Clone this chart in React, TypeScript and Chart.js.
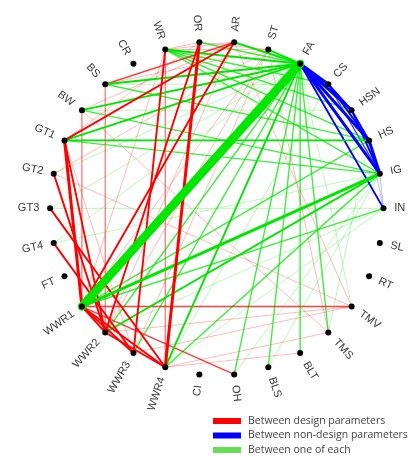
import React, { useEffect, useRef } from "react";
import { Chart, registerables } from "chart.js";

Chart.register(...registerables);

// Nodes placed counter-clockwise around the circle starting at 3 o'clock, 12° apart
const NODES = [
  "IN", "IG", "HS", "HSN", "CS", "FA", "ST", "AR", "OR", "WR",
  "CR", "BS", "BW", "GT1", "GT2", "GT3", "GT4", "FT", "WWR1", "WWR2",
  "WWR3", "WWR4", "CI", "OH", "BLS", "BLT", "TMS", "TMV", "RT", "SL",
];
const NON_DESIGN = ["FA", "CS", "HSN", "HS", "IG", "IN"];

// [from, to, strength 1..5]
const NONDESIGN_EDGES: [string, string, number][] = [
  ["FA", "CS", 4], ["FA", "HSN", 4], ["FA", "HS", 4], ["FA", "IG", 4], ["FA", "IN", 3],
  ["CS", "HSN", 3], ["CS", "HS", 3], ["CS", "IG", 2], ["HSN", "HS", 3], ["HSN", "IG", 3],
  ["HS", "IG", 4], ["HS", "IN", 1], ["IG", "IN", 1],
];

const DESIGN_EDGES: [string, string, number][] = [
  ["GT1", "WWR1", 4], ["GT1", "WWR2", 3], ["GT2", "WWR2", 3], ["GT3", "WWR4", 3], ["GT4", "WWR3", 3],
  ["GT1", "AR", 3], ["BS", "AR", 2], ["WR", "WWR3", 3], ["WR", "WWR4", 1], ["OR", "WWR4", 4],
  ["OR", "WWR2", 3], ["AR", "WWR1", 3], ["AR", "WWR2", 1], ["ST", "WWR1", 1], ["ST", "WWR2", 1],
  ["ST", "WWR3", 1], ["WWR1", "TMV", 2], ["WWR1", "WWR2", 3], ["WWR1", "WWR3", 3], ["WWR1", "WWR4", 3],
  ["WWR2", "WWR4", 3], ["WWR2", "TMV", 1], ["WWR3", "TMV", 1], ["WWR1", "OH", 2], ["WWR4", "TMS", 1],
  ["WWR4", "BLT", 1], ["TMV", "AR", 1], ["TMS", "ST", 1], ["BW", "WWR1", 1], ["BS", "WWR2", 1],
  ["GT1", "WWR3", 1], ["GT2", "TMV", 1], ["BW", "TMS", 1], ["WR", "OR", 1], ["WR", "AR", 1],
  ["WR", "ST", 1], ["OR", "ST", 1], ["BS", "ST", 1], ["BW", "AR", 1], ["GT2", "ST", 1],
  ["GT1", "OR", 1], ["WR", "WWR1", 1],
];

const MIXED_EDGES: [string, string, number][] = [
  ["FA", "WWR1", 5], ["FA", "WR", 3], ["FA", "OR", 2], ["FA", "AR", 3], ["FA", "ST", 3],
  ["FA", "BS", 3], ["FA", "BW", 3], ["FA", "GT1", 3], ["FA", "GT2", 1], ["FA", "GT3", 1],
  ["FA", "GT4", 1], ["FA", "WWR2", 2], ["FA", "WWR3", 2], ["FA", "WWR4", 3], ["FA", "OH", 2],
  ["FA", "BLS", 2], ["FA", "BLT", 2], ["FA", "TMS", 2], ["FA", "TMV", 1], ["IG", "WWR1", 4],
  ["IG", "WWR2", 3], ["IG", "WWR4", 2], ["IG", "GT1", 2], ["IG", "WR", 2], ["IG", "BW", 2],
  ["IG", "GT4", 1], ["IG", "OH", 1], ["HS", "GT1", 3], ["HS", "WWR1", 2], ["HS", "WR", 2],
  ["HS", "BS", 2], ["IN", "WWR1", 2], ["IN", "WWR2", 1], ["IN", "GT3", 1], ["HSN", "WR", 2],
  ["HSN", "BW", 1], ["CS", "BS", 1], ["CS", "WWR4", 1], ["IN", "WWR4", 1], ["IG", "BLS", 1],
  ["HS", "TMS", 1], ["WR", "CS", 2],
];

const LEGEND_LABELS = [
  "Between design parameters",
  "Between non-design parameters",
  "Between one of each",
];

const WIDTHS = [0, 0.9, 1.4, 1.9, 3, 8.5];
const ALPHAS = [0, 0.3, 0.75, 1, 1, 1];

const W = 411;
const H = 457;
const CX = 217;
const CY = 208;
const R = 170;

function pos(name: string) {
  const i = NODES.indexOf(name);
  const a = (i * 12 * Math.PI) / 180;
  return { x: Math.cos(a), y: Math.sin(a) };
}

function edgeColor(a: string, b: string, alpha: number) {
  const na = NON_DESIGN.includes(a);
  const nb = NON_DESIGN.includes(b);
  if (na && nb) return `rgba(0,0,255,${alpha})`;
  if (!na && !nb) return `rgba(255,0,0,${alpha})`;
  return `rgba(0,230,0,${alpha})`;
}

const labelPlugin = {
  id: "nodeLabels",
  afterDatasetsDraw(chart: any) {
    const ctx = chart.ctx;
    const xs = chart.scales.x;
    const ys = chart.scales.y;
    ctx.save();
    ctx.font = "11px 'Liberation Sans', Arial, sans-serif";
    ctx.fillStyle = "#3a3a3a";
    ctx.textBaseline = "middle";
    NODES.forEach((n, i) => {
      const deg = i * 12;
      const a = (deg * Math.PI) / 180;
      const lr = 1.065;
      const px = xs.getPixelForValue(Math.cos(a) * lr);
      const py = ys.getPixelForValue(Math.sin(a) * lr);
      ctx.save();
      ctx.translate(px, py);
      const left = deg > 90 && deg < 270;
      if (left) {
        ctx.rotate(Math.PI - a);
        ctx.textAlign = "right";
      } else {
        ctx.rotate(-a);
        ctx.textAlign = "left";
      }
      ctx.fillText(n, 0, 0);
      ctx.restore();
    });
    // legend
    const cols = ["#ff0000", "#0000ff", "#66dd55"];
    ctx.font = "10.5px 'Open Sans', sans-serif";
    ctx.textAlign = "left";
    LEGEND_LABELS.forEach((t, k) => {
      const y = 421 + k * 14.5;
      ctx.fillStyle = cols[k];
      ctx.fillRect(213, y - 3, 28, 6);
      ctx.fillStyle = "#444";
      ctx.fillText(t, 248, y);
    });
    ctx.restore();
  },
};

export default function App() {
  const ref = useRef<HTMLCanvasElement>(null);
  useEffect(() => {
    if (!ref.current) return;
    const all: [string, string, number][] = [
      ...DESIGN_EDGES,
      ...MIXED_EDGES,
      ...NONDESIGN_EDGES,
    ];
    const edgeSets = all.map(([a, b, s]) => {
      const pa = pos(a);
      const pb = pos(b);
      return {
        type: "line" as const,
        data: [pa, pb],
        borderColor: edgeColor(a, b, ALPHAS[s]),
        borderWidth: WIDTHS[s],
        pointRadius: 0,
        fill: false,
        order: 10 - s,
        borderCapStyle: "round" as const,
      };
    });
    const nodeSet = {
      type: "scatter" as const,
      data: NODES.map((n) => pos(n)),
      pointRadius: 3,
      pointBackgroundColor: "#000",
      pointBorderWidth: 0,
      order: 0,
    };
    const chart = new Chart(ref.current, {
      type: "scatter",
      data: { datasets: [nodeSet as any, ...edgeSets] },
      options: {
        animation: false,
        responsive: false,
        maintainAspectRatio: false,
        layout: { padding: 0 },
        plugins: { legend: { display: false }, tooltip: { enabled: false } },
        scales: {
          x: { type: "linear", min: -CX / R, max: (W - CX) / R, display: false },
          y: { type: "linear", min: -(H - CY) / R, max: CY / R, display: false },
        },
      },
      plugins: [labelPlugin],
    });
    return () => chart.destroy();
  }, []);
  return (
    <div style={{ position: "absolute", left: 0, top: 0, width: W, height: H, background: "#fff" }}>
      <canvas ref={ref} width={W} height={H} style={{ width: W, height: H }} />
    </div>
  );
}
